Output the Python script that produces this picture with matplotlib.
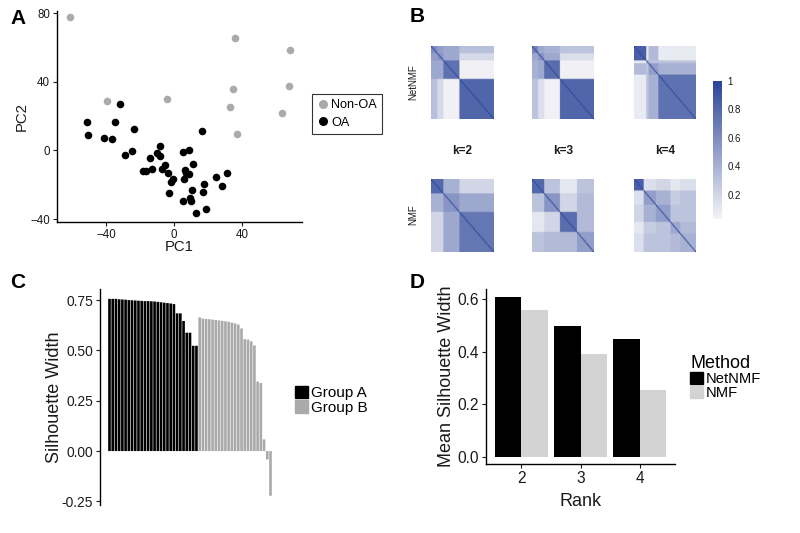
import numpy as np
import matplotlib
matplotlib.use("Agg")
import matplotlib.pyplot as plt
from matplotlib.colors import LinearSegmentedColormap
from matplotlib.lines import Line2D
from matplotlib.patches import Patch

plt.rcParams['font.family'] = ['Liberation Sans', 'DejaVu Sans']

# ---------------- Panel A data (PCA) ----------------
nonoa_pc1 = [-61.4, -39.4, -4.3, 36.1, 34.8, 32.8, 36.9, 68.3, 67.6, 63.7]
nonoa_pc2 = [77.7, 28.7, 29.7, 65.4, 35.7, 25.2, 9.3, 58.6, 37.5, 21.7]
oa_pc1 = [-31.7, -34.8, -41.4, -36.5, -23.5, -28.9, -24.9, -8.5, -10.1, -8.2,
          -14.0, -18.3, -16.3, -12.8, -7.0, -5.4, -3.5, -0.8, -1.6, -2.7,
          5.4, 9.1, 11.1, 6.2, 6.8, 9.1, 5.8, 10.5, 17.5, 17.1,
          9.3, 9.9, 5.6, 12.8, 19.0, 24.5, 28.2, 30.9, 16.7, -50.9, -50.3]
oa_pc2 = [26.8, 16.7, 7.4, 6.6, 12.6, -2.5, -0.6, 2.3, -1.6, -3.3,
          -4.3, -11.8, -12.0, -11.1, -10.9, -8.4, -13.2, -16.5, -18.4, -24.7,
          -1.0, 0.0, -7.8, -11.3, -13.4, -14.0, -16.9, -22.9, -19.8, -24.3,
          -27.8, -29.7, -29.3, -36.3, -34.0, -15.5, -21.0, -13.0, 11.1, 16.3, 9.1]

# ---------------- Panel C data (silhouette widths) ----------------
group_a_sil = [0.756, 0.756, 0.756, 0.754, 0.753, 0.752, 0.750, 0.749, 0.748, 0.747,
               0.746, 0.745, 0.745, 0.744, 0.743, 0.741, 0.739, 0.737, 0.735, 0.733,
               0.730, 0.684, 0.684, 0.646, 0.588, 0.588, 0.523, 0.523]
group_b_sil = [0.664, 0.658, 0.656, 0.655, 0.653, 0.651, 0.649, 0.647, 0.645, 0.642,
               0.638, 0.634, 0.628, 0.609, 0.556, 0.554, 0.545, 0.525, 0.345, 0.338,
               0.058, -0.042, -0.222]

# ---------------- Panel D data ----------------
ranks = [2, 3, 4]
netnmf_mean = [0.608, 0.497, 0.449]
nmf_mean = [0.559, 0.393, 0.254]

# ---------------- Panel B data (consensus block structure) ----------------
netnmf_k2_sizes = [5, 5, 13, 28]
netnmf_k2_blocks = [[0.60, 0.50, 0.45, 0.32],
                    [0.50, 0.55, 0.45, 0.18],
                    [0.45, 0.45, 0.75, 0.05],
                    [0.32, 0.18, 0.05, 0.82]]
netnmf_k3_sizes = [5, 5, 13, 28]
netnmf_k3_blocks = [[0.65, 0.45, 0.40, 0.30],
                    [0.45, 0.55, 0.45, 0.15],
                    [0.40, 0.45, 0.78, 0.05],
                    [0.30, 0.15, 0.05, 0.82]]
netnmf_k4_sizes = [10, 2, 8, 31]
netnmf_k4_blocks = [[0.85, 0.10, 0.35, 0.08],
                    [0.10, 0.40, 0.30, 0.30],
                    [0.35, 0.30, 0.50, 0.40],
                    [0.08, 0.30, 0.40, 0.75]]
nmf_k2_sizes = [10, 13, 28]
nmf_k2_blocks = [[0.80, 0.40, 0.20],
                 [0.40, 0.55, 0.45],
                 [0.20, 0.45, 0.72]]
nmf_k3_sizes = [10, 13, 14, 14]
nmf_k3_blocks = [[0.80, 0.30, 0.10, 0.30],
                 [0.30, 0.55, 0.20, 0.35],
                 [0.10, 0.20, 0.78, 0.35],
                 [0.30, 0.35, 0.35, 0.50]]
nmf_k4_sizes = [8, 10, 12, 8, 13]
nmf_k4_blocks = [[0.85, 0.15, 0.20, 0.10, 0.15],
                 [0.15, 0.50, 0.40, 0.25, 0.30],
                 [0.20, 0.40, 0.50, 0.30, 0.30],
                 [0.10, 0.25, 0.30, 0.45, 0.35],
                 [0.15, 0.30, 0.30, 0.35, 0.40]]
k_labels = ["k=2", "k=3", "k=4"]
row_labels = ["NetNMF", "NMF"]
cbar_ticks = [0.2, 0.4, 0.6, 0.8, 1.0]
cbar_ticklabels = ["0.2", "0.4", "0.6", "0.8", "1"]


def block_matrix(sizes, blocks):
    labels = np.repeat(np.arange(len(sizes)), sizes)
    b = np.array(blocks)
    m = b[labels][:, labels]
    np.fill_diagonal(m, 1.0)
    return m


W, H = 800, 533
fig = plt.figure(figsize=(8, 5.33), dpi=100)


def px_axes(left, top, right, bottom):
    return fig.add_axes([left / W, 1 - bottom / H, (right - left) / W, (bottom - top) / H])


TXT = "#1a1a1a"

# ================= Panel A =================
axA = px_axes(57, 11, 302, 222)
axA.scatter(nonoa_pc1, nonoa_pc2, s=30, color="#aaaaaa", linewidths=0, zorder=3)
axA.scatter(oa_pc1, oa_pc2, s=30, color="black", linewidths=0, zorder=3)
axA.set_xlim(-68.8, 75.3)
axA.set_ylim(-41.7, 81.2)
axA.set_xticks([-40, 0, 40])
axA.set_yticks([-40, 0, 40, 80])
axA.spines[['top', 'right']].set_visible(False)
for s in ['left', 'bottom']:
    axA.spines[s].set_linewidth(1.0)
axA.tick_params(labelsize=8.3, length=3, width=0.8, colors=TXT, pad=2)
axA.set_xlabel("PC1", fontsize=10.7, labelpad=-1, color=TXT)
axA.set_ylabel("PC2", fontsize=10.7, labelpad=1, color=TXT)
hA = [Line2D([], [], marker='o', ls='', color="#aaaaaa", markersize=5.5, label="Non-OA"),
      Line2D([], [], marker='o', ls='', color="black", markersize=5.5, label="OA")]
legA = fig.legend(handles=hA, loc='upper left', bbox_to_anchor=(312 / W, 1 - 94 / H),
                  frameon=True, fancybox=False, fontsize=9.1, handletextpad=0.1,
                  handlelength=1.0, borderpad=0.4, labelspacing=0.45, borderaxespad=0)
legA.get_frame().set_edgecolor("black")
legA.get_frame().set_linewidth(0.8)

# ================= Panel B =================
cmap = LinearSegmentedColormap.from_list("cons", ["#f4f4f7", "#2c4599"])
hm_x = [(431, 493), (532, 594), (634, 696)]
hm_y = [(46, 119), (179, 252)]
mats = [[(netnmf_k2_sizes, netnmf_k2_blocks), (netnmf_k3_sizes, netnmf_k3_blocks),
         (netnmf_k4_sizes, netnmf_k4_blocks)],
        [(nmf_k2_sizes, nmf_k2_blocks), (nmf_k3_sizes, nmf_k3_blocks),
         (nmf_k4_sizes, nmf_k4_blocks)]]
for r in range(2):
    for c in range(3):
        ax = px_axes(hm_x[c][0], hm_y[r][0], hm_x[c][1], hm_y[r][1])
        m = block_matrix(*mats[r][c])
        ax.imshow(m, cmap=cmap, vmin=0.03, vmax=1.0, aspect='auto', interpolation='bilinear')
        ax.set_axis_off()
for c in range(3):
    fig.text((hm_x[c][0] + hm_x[c][1]) / 2 / W, 1 - 151 / H, k_labels[c], ha='center',
             va='center', fontsize=8.5, fontweight='bold', color=TXT)
fig.text(413 / W, 1 - 82 / H, row_labels[0], rotation=90, ha='center', va='center',
         fontsize=7, color=TXT)
fig.text(413 / W, 1 - 215 / H, row_labels[1], rotation=90, ha='center', va='center',
         fontsize=7, color=TXT)
axCb = px_axes(713, 81, 722, 219)
grad = np.linspace(1.0, 0.03, 200).reshape(-1, 1)
axCb.imshow(grad, cmap=cmap, vmin=0.03, vmax=1.0, aspect='auto',
            extent=[0, 1, 0.03, 1.0])
axCb.set_xticks([])
axCb.yaxis.tick_right()
axCb.set_yticks(cbar_ticks)
axCb.set_yticklabels(cbar_ticklabels)
axCb.tick_params(axis='y', length=0, labelsize=7, pad=4, colors=TXT)
for s in axCb.spines.values():
    s.set_visible(False)

# ================= Panel C =================
axC = px_axes(100, 289, 280, 505)
sil_all = group_a_sil + group_b_sil
xs = np.arange(1, len(sil_all) + 1)
na = len(group_a_sil)
barsA = axC.bar(xs[:na], group_a_sil, width=0.82, color="black", linewidth=0)
barsB = axC.bar(xs[na:], group_b_sil, width=0.82, color="#aaaaaa", linewidth=0)
for b in list(barsA) + list(barsB):
    b.set_snap(False)
axC.set_xlim(0.55 - 2.5, len(sil_all) + 0.45 + 2.5)
axC.set_ylim(-0.268, 0.805)
axC.set_xticks([])
axC.set_yticks([-0.25, 0.0, 0.25, 0.5, 0.75])
axC.set_yticklabels(["-0.25", "0.00", "0.25", "0.50", "0.75"])
axC.spines[['top', 'right', 'bottom']].set_visible(False)
axC.spines['left'].set_linewidth(1.0)
axC.tick_params(labelsize=9.9, length=3, width=0.8, colors=TXT, pad=2)
axC.set_ylabel("Silhouette Width", fontsize=13, labelpad=-1, color=TXT)
hC = [Patch(color="black", label="Group A"), Patch(color="#aaaaaa", label="Group B")]
fig.legend(handles=hC, loc='upper left', bbox_to_anchor=(295 / W, 1 - 386 / H),
           frameon=False, fontsize=11, handlelength=0.85, handleheight=0.85,
           handletextpad=0.2, labelspacing=0.0, borderpad=0, borderaxespad=0)

# ================= Panel D =================
axD = px_axes(486, 289, 675, 464)
xr = np.array(ranks, dtype=float)
axD.bar(xr - 0.225, netnmf_mean, width=0.45, color="black", linewidth=0)
axD.bar(xr + 0.225, nmf_mean, width=0.45, color="#d3d3d3", linewidth=0)
axD.set_xlim(1.4, 4.6)
axD.set_ylim(-0.028, 0.639)
axD.set_xticks(ranks)
axD.set_yticks([0.0, 0.2, 0.4, 0.6])
axD.set_yticklabels(["0.0", "0.2", "0.4", "0.6"])
axD.spines[['top', 'right']].set_visible(False)
for s in ['left', 'bottom']:
    axD.spines[s].set_linewidth(1.0)
axD.tick_params(labelsize=11.2, length=3, width=0.8, colors=TXT, pad=2)
axD.set_xlabel("Rank", fontsize=13, labelpad=5, color=TXT)
axD.set_ylabel("Mean Silhouette Width", fontsize=13, labelpad=2, color=TXT)
hD = [Patch(color="black", label="NetNMF"), Patch(color="#d3d3d3", label="NMF")]
legD = fig.legend(handles=hD, loc='upper left', bbox_to_anchor=(690 / W, 1 - 355 / H),
                  frameon=False, fontsize=10.6, title="Method", title_fontsize=13,
                  handlelength=0.9, handleheight=0.9, handletextpad=0.2,
                  labelspacing=0.0, borderpad=0, borderaxespad=0, alignment='left')

# ================= panel letters =================
for lab, x, y in [("A", 10, 18), ("B", 410, 16), ("C", 10, 283), ("D", 410, 283)]:
    fig.text(x / W, 1 - y / H, lab, fontsize=15, fontweight='bold', ha='left',
             va='center', color="black")

fig.savefig("out.png", dpi=100)
